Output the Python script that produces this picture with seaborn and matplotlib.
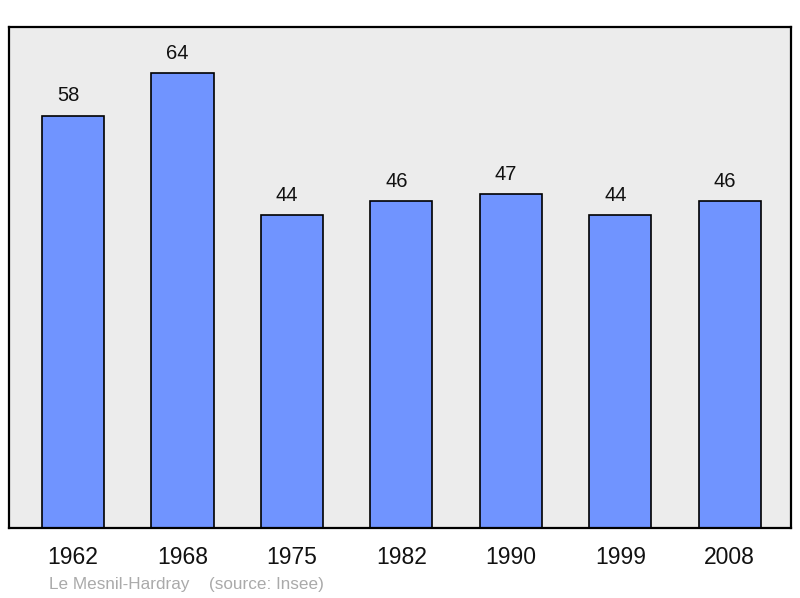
import matplotlib
matplotlib.use('Agg')
import matplotlib.pyplot as plt
import pandas as pd
import seaborn as sns

# population by census year
years = ['1962', '1968', '1975', '1982', '1990', '1999', '2008']
population = [58, 64, 44, 46, 47, 44, 46]
place = 'Le Mesnil-Hardray'
source = '(source: Insee)'

df = pd.DataFrame({'year': years, 'pop': population})

sns.set_style('white')
plt.rcParams['font.family'] = ['Liberation Sans', 'DejaVu Sans']

fig = plt.figure(figsize=(8, 5.98), dpi=100)
ax = fig.add_axes([9 / 800, 70 / 598, 782 / 800, 501 / 598])
ax.set_facecolor('#ececec')

sns.barplot(data=df, x='year', y='pop', color='#7094ff', saturation=1,
            width=0.567, edgecolor='black', linewidth=1.2, ax=ax)

# value labels sit a little left of the bar centre, as in the original
for i, v in enumerate(population):
    ax.text(i - 0.045, v + 2.8, str(v), ha='center', va='center', fontsize=14.5,
            color='#111111')

ax.set_xlim(-0.585, 6.56)
ax.set_ylim(0, 70.5)
ax.set_yticks([])
ax.set_xlabel('')
ax.set_ylabel('')
ax.tick_params(axis='x', length=0, pad=13, labelsize=16.5, labelcolor='#111111')
for s in ax.spines.values():
    s.set_color('black')
    s.set_linewidth(1.6)

fig.text(49 / 800, 1 - 584 / 598, place, color='#aaaaaa', fontsize=12.3,
         va='center', ha='left')
fig.text(209 / 800, 1 - 584 / 598, source, color='#aaaaaa', fontsize=12.3,
         va='center', ha='left')

fig.savefig('out.png', dpi=100)
plt.close()
